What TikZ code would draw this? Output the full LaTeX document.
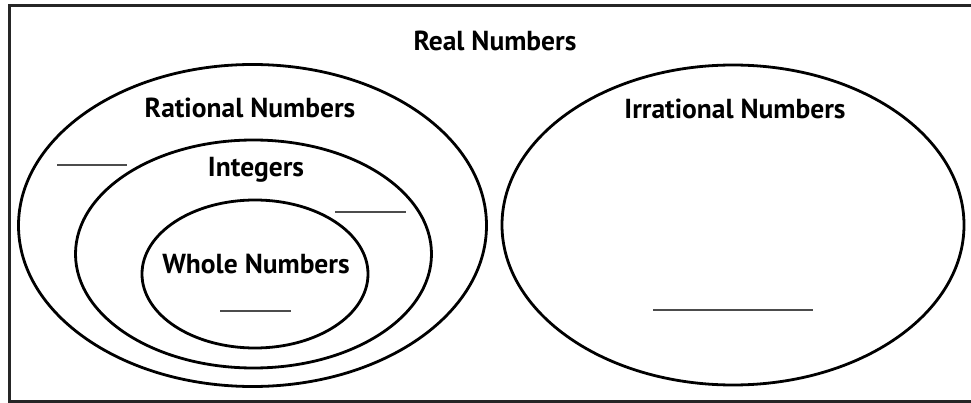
\documentclass[tikz,border=0pt]{standalone}
\usepackage{fontspec}
\setmainfont{PT Sans}
\usetikzlibrary{shapes.geometric}
\begin{document}
\begin{tikzpicture}[x=1pt,y=-1pt,
  setbox/.style={draw=black, line width=2.8pt, ellipse, inner sep=0pt},
  lbl/.style={font=\bfseries\fontsize{27.5}{30}\selectfont, anchor=base, inner sep=0pt, text=black},
  blank/.style={draw=black!70, line width=1.4pt},
  frame/.style={draw=black!85, line width=3pt}]
\useasboundingbox (0,0) rectangle (971,403);
\draw[frame] (971,5.5) -- (9.5,5.5) -- (9.5,401) -- (971,401);
\node[setbox, minimum width=468pt, minimum height=322pt] (rat) at (252.5,225.5) {};
\node[setbox, minimum width=356pt, minimum height=228pt] (int) at (253.5,254) {};
\node[setbox, minimum width=226pt, minimum height=148pt] (whole) at (255,274) {};
\node[setbox, minimum width=462pt, minimum height=320pt] (irr) at (733,225) {};
\node[lbl] (real) at (495,51) {Real Numbers};
\node[lbl] (ratl) at (250,118) {Rational Numbers};
\node[lbl] (irrl) at (735,119) {Irrational Numbers};
\node[lbl] (intl) at (256,177) {Integers};
\node[lbl] (wholel) at (256,273) {Whole Numbers};
\coordinate (b1a) at (57,165); \coordinate (b1b) at (127,165);
\coordinate (b2a) at (335,212); \coordinate (b2b) at (406,212);
\coordinate (b3a) at (220,311); \coordinate (b3b) at (291,311);
\coordinate (b4a) at (653,310); \coordinate (b4b) at (813,310);
\draw[blank] (b1a) -- (b1b);
\draw[blank] (b2a) -- (b2b);
\draw[blank] (b3a) -- (b3b);
\draw[blank] (b4a) -- (b4b);
\end{tikzpicture}
\end{document}
